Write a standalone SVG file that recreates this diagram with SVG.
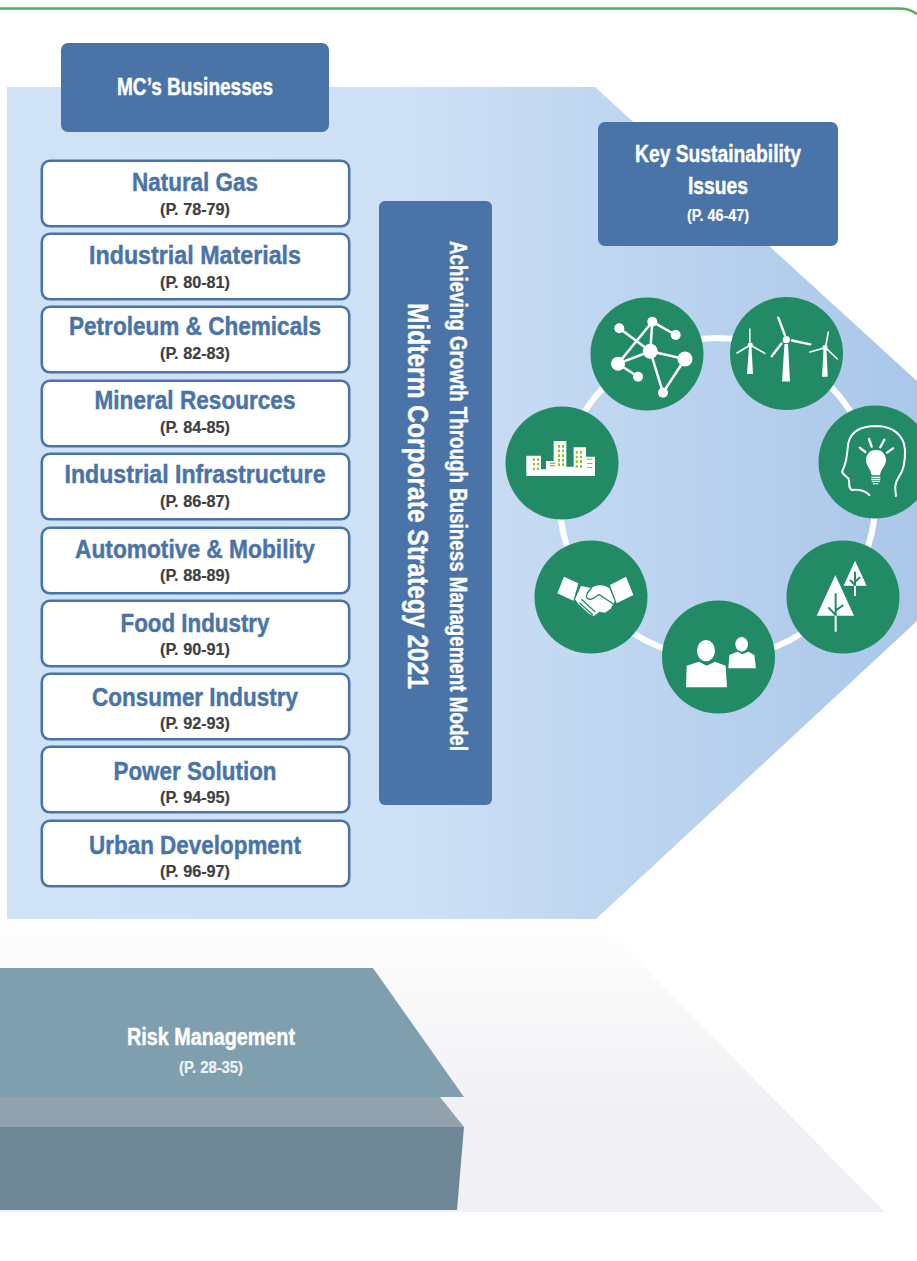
<svg xmlns="http://www.w3.org/2000/svg" width="917" height="1261" viewBox="0 0 917 1261">
<style>
text{font-family:"Liberation Sans",Arial,sans-serif;font-weight:700;text-anchor:middle}
.b{fill:#4a74a8}
.box{fill:#fff;stroke:#4a74a8;stroke-width:2.6}
.n{fill:#4a74a8;stroke:#4a74a8;stroke-width:.45;font-size:26.5px}
.p{fill:#3f3f3f;stroke:#3f3f3f;stroke-width:.2;font-size:16px}
.w{fill:#fff}
.t{fill:#fff;stroke:#fff;stroke-width:.4;font-size:23px}
.s{fill:#fff;stroke:#fff;stroke-width:.2;font-size:16px}
.g{fill:#238a66}
.l{stroke:#fff;fill:none;stroke-linecap:round}
.y{fill:#8dc21f}
</style>
<defs>
<linearGradient id="ar" x1="0" x2="1" y1="0" y2="0"><stop offset="0" stop-color="#d0e2f6"/><stop offset=".42" stop-color="#cfe1f6"/><stop offset="1" stop-color="#aac7e9"/></linearGradient>
<linearGradient id="fl" x1="0" x2="0" y1="0" y2="1"><stop offset="0" stop-color="#fefefe"/><stop offset=".65" stop-color="#f1f1f5"/><stop offset="1" stop-color="#f0f0f5"/></linearGradient>
</defs>
<path d="M0 8.5H898Q910 8.5 917 14" fill="none" stroke="#4cb05c" stroke-width="2.5"/>
<polygon id="floor" points="0,919 596,919 885,1212 0,1212" fill="url(#fl)"/>
<polygon id="arrow" points="7,87 595,87 917,381 917,621 596,919 7,919" fill="url(#ar)"/>
<g id="risk">
<polygon points="0,968 373,968 464,1097 0,1097" fill="#7f9fae"/>
<polygon points="0,1097 440,1097 464,1127 0,1127" fill="#91a2ae"/>
<polygon points="0,1127 464,1127 457,1210 0,1210" fill="#6d8794"/>
<text class="t" x="211" y="1045" textLength="168" lengthAdjust="spacingAndGlyphs">Risk Management</text>
<text class="s" x="211" y="1073" textLength="64" lengthAdjust="spacingAndGlyphs" style="fill:#eef2f5">(P. 28-35)</text>
</g>
<g id="mc"><rect class="b" x="61" y="43" width="268" height="89" rx="7"/><text class="t" x="195" y="95" textLength="156" lengthAdjust="spacingAndGlyphs">MC’s Businesses</text></g>
<g id="key"><rect class="b" x="598" y="122" width="240" height="124" rx="7"/><text class="t" x="718" y="162" textLength="166" lengthAdjust="spacingAndGlyphs">Key Sustainability</text><text class="t" x="718" y="194" textLength="60" lengthAdjust="spacingAndGlyphs">Issues</text><text class="s" x="718" y="221" textLength="62" lengthAdjust="spacingAndGlyphs">(P. 46-47)</text></g>
<g id="strategy"><rect class="b" x="379" y="201" width="113" height="604" rx="6"/>
<text class="t" transform="translate(408,496) rotate(90)" style="font-size:29px" textLength="386" lengthAdjust="spacingAndGlyphs">Midterm Corporate Strategy 2021</text>
<text class="t" transform="translate(450,496) rotate(90)" style="font-size:23px" textLength="510" lengthAdjust="spacingAndGlyphs">Achieving Growth Through Business Management Model</text></g>
<g id="b1"><rect class="box" x="41.8" y="160.8" width="307.4" height="65.5" rx="8"/><text class="n" x="195" y="191" textLength="126" lengthAdjust="spacingAndGlyphs">Natural Gas</text><text class="p" x="195" y="215" textLength="70" lengthAdjust="spacingAndGlyphs">(P. 78-79)</text></g>
<g id="b2"><rect class="box" x="41.8" y="233.8" width="307.4" height="65.5" rx="8"/><text class="n" x="195" y="264" textLength="212" lengthAdjust="spacingAndGlyphs">Industrial Materials</text><text class="p" x="195" y="288" textLength="70" lengthAdjust="spacingAndGlyphs">(P. 80-81)</text></g>
<g id="b3"><rect class="box" x="41.8" y="306.8" width="307.4" height="65.5" rx="8"/><text class="n" x="195" y="335" textLength="252" lengthAdjust="spacingAndGlyphs">Petroleum &amp; Chemicals</text><text class="p" x="195" y="359" textLength="70" lengthAdjust="spacingAndGlyphs">(P. 82-83)</text></g>
<g id="b4"><rect class="box" x="41.8" y="380.8" width="307.4" height="65.5" rx="8"/><text class="n" x="195" y="409" textLength="201" lengthAdjust="spacingAndGlyphs">Mineral Resources</text><text class="p" x="195" y="433" textLength="70" lengthAdjust="spacingAndGlyphs">(P. 84-85)</text></g>
<g id="b5"><rect class="box" x="41.8" y="453.8" width="307.4" height="65.5" rx="8"/><text class="n" x="195" y="483" textLength="261" lengthAdjust="spacingAndGlyphs">Industrial Infrastructure</text><text class="p" x="195" y="507" textLength="70" lengthAdjust="spacingAndGlyphs">(P. 86-87)</text></g>
<g id="b6"><rect class="box" x="41.8" y="527.8" width="307.4" height="65.5" rx="8"/><text class="n" x="195" y="558" textLength="240" lengthAdjust="spacingAndGlyphs">Automotive &amp; Mobility</text><text class="p" x="195" y="581" textLength="70" lengthAdjust="spacingAndGlyphs">(P. 88-89)</text></g>
<g id="b7"><rect class="box" x="41.8" y="600.8" width="307.4" height="65.5" rx="8"/><text class="n" x="195" y="632" textLength="149" lengthAdjust="spacingAndGlyphs">Food Industry</text><text class="p" x="195" y="655" textLength="70" lengthAdjust="spacingAndGlyphs">(P. 90-91)</text></g>
<g id="b8"><rect class="box" x="41.8" y="673.8" width="307.4" height="65.5" rx="8"/><text class="n" x="195" y="706" textLength="206" lengthAdjust="spacingAndGlyphs">Consumer Industry</text><text class="p" x="195" y="729" textLength="70" lengthAdjust="spacingAndGlyphs">(P. 92-93)</text></g>
<g id="b9"><rect class="box" x="41.8" y="746.8" width="307.4" height="65.5" rx="8"/><text class="n" x="195" y="780" textLength="163" lengthAdjust="spacingAndGlyphs">Power Solution</text><text class="p" x="195" y="803" textLength="70" lengthAdjust="spacingAndGlyphs">(P. 94-95)</text></g>
<g id="b10"><rect class="box" x="41.8" y="820.8" width="307.4" height="65.5" rx="8"/><text class="n" x="195" y="854" textLength="212" lengthAdjust="spacingAndGlyphs">Urban Development</text><text class="p" x="195" y="877" textLength="70" lengthAdjust="spacingAndGlyphs">(P. 96-97)</text></g>
<g id="connectors"><ellipse cx="717.5" cy="498" rx="158" ry="160" fill="none" stroke="#fff" stroke-width="6"/></g>
<g id="network"><circle class="g" cx="647" cy="354" r="56.5"/>
<g class="l" stroke-width="2.5"><path d="M619.3 328.3L650.3 351.3M652.3 321.7L675.7 335M652.3 321.7L650.3 351.3M652.3 321.7L618 363.7L650.3 351.3L685 359L663 392.7L650.3 351.3M618 363.7L638 376.7"/></g>
<g class="w"><circle cx="619.3" cy="328.3" r="5"/><circle cx="652.3" cy="321.7" r="5"/><circle cx="675.7" cy="335" r="5"/><circle cx="650.3" cy="351.3" r="7.5"/><circle cx="685" cy="359" r="7.5"/><circle cx="618" cy="363.7" r="7"/><circle cx="638" cy="376.7" r="5"/><circle cx="663" cy="392.7" r="5"/></g></g>
<g id="wind"><circle class="g" cx="786.5" cy="353.5" r="56.5"/>
<g class="w"><polygon points="749,347 751.5,347 753,374 747,374"/><polygon points="784.5,344 788,344 790,381.5 782,381.5"/><polygon points="823.5,350 826.5,350 827.7,376.7 822,376.7"/><circle cx="750.3" cy="345" r="2.6"/><circle cx="786.3" cy="339.7" r="3.6"/><circle cx="825" cy="347.7" r="2.6"/></g>
<g class="l" stroke-width="1.6"><path d="M749.8 342V329M752.8 346.5L764.7 353.3M747.8 346.5L737 353M826 345L828.3 332M827.5 349.5L837.3 359M822.4 348.5L810 352"/></g>
<g class="l" stroke-width="2.4"><path d="M784.8 335L778.3 317.7M792 340.5L810.3 344.3M781.5 343.5L771.7 356.3"/></g></g>
<g id="idea"><circle class="g" cx="875" cy="462" r="56.5"/>
<g transform="translate(500,280) scale(.33333)"><path class="l" stroke-width="6" d="M1188 648C1185 625 1183 610 1197 590C1212 570 1216 545 1215 510C1212 465 1180 440 1130 438C1080 438 1052 455 1045 490C1040 520 1042 545 1028 570C1022 580 1035 585 1045 595C1052 610 1042 622 1055 630C1075 628 1095 632 1108 645"/>
<path class="l" stroke-width="7" d="M1079 503L1096 516M1107 477L1115 500M1153 479L1141 502M1179 505L1161 518"/>
<path class="w" d="M1128 510C1108 510 1098 525 1098 541C1098 558 1113 566 1115 586H1140C1142 566 1158 558 1158 541C1158 525 1148 510 1128 510Z"/>
<path d="M1114 592H1141M1114 598H1141M1115 604H1140M1119 611H1135" stroke="#fff" stroke-width="3.5" fill="none"/></g></g>
<g id="trees"><circle class="g" cx="843" cy="597" r="56.5"/>
<g transform="translate(500,520) scale(.33333)"><polygon class="w" points="1006,165 1062,287 950,287"/><polygon class="w" points="1065,122 1100,197 1031,197"/>
<path d="M1007 287V335M1065 197V228" stroke="#fff" stroke-width="6" fill="none"/>
<path d="M1007 220V287M1007 285L985 262M1007 272L1030 255M1065 155V197M1065 195L1050 180M1065 185L1080 172" stroke="#238a66" stroke-width="6" fill="none"/></g></g>
<g id="people"><circle class="g" cx="718.5" cy="657" r="56.5"/>
<g transform="translate(500,520) scale(.33333)" class="w"><ellipse cx="618" cy="392" rx="27" ry="32"/><path d="M560 437L597 425L620 437L645 425L677 437L681 502H558Z"/><ellipse cx="725" cy="373" rx="19" ry="22"/><path d="M685 445L688 405L712 395L727 403L745 395L763 405L768 445Z"/></g></g>
<g id="hands"><circle class="g" cx="591" cy="597" r="56.5"/>
<g transform="translate(550,560) scale(.33333)"><polygon class="w" points="42,50 85,70 70,122 22,100"/><polygon class="w" points="180,75 228,50 250,105 200,130"/>
<path class="w" d="M93 78L125 84C135 76 150 74 165 78L178 84L194 124L182 146L165 158L148 155L132 168L118 162L85 132L75 118Z"/>
<path d="M125 84C108 100 102 118 122 118C135 116 140 105 148 104L190 132M94 118L136 156M88 128L128 164" stroke="#238a66" stroke-width="4" fill="none"/></g></g>
<g id="city"><circle class="g" cx="562" cy="463" r="56.5"/>
<g transform="translate(500,280) scale(.33333)"><path class="w" d="M79 527H123V568H138V543H161V483H199V560H221V502H258V530H285V588H79Z"/>
<path class="y" d="M99 535h6v7h-6zM111 535h6v7h-6zM99 549h6v7h-6zM111 549h6v7h-6zM99 563h6v7h-6zM111 563h6v7h-6zM174 495h6v8h-6zM186 495h6v8h-6zM174 509h6v8h-6zM186 509h6v8h-6zM174 523h6v8h-6zM186 523h6v8h-6zM174 537h6v8h-6zM186 537h6v8h-6zM174 550h6v8h-6zM186 550h6v8h-6zM227 513h6v8h-6zM240 513h6v8h-6zM227 527h6v8h-6zM240 527h6v8h-6zM227 541h6v8h-6zM240 541h6v8h-6zM227 555h6v8h-6zM240 555h6v8h-6zM150 548h16v4h-16zM150 555h16v4h-16zM261 536h16v3h-16zM261 549h16v3h-16zM261 561h16v3h-16z"/></g></g>
</svg>
